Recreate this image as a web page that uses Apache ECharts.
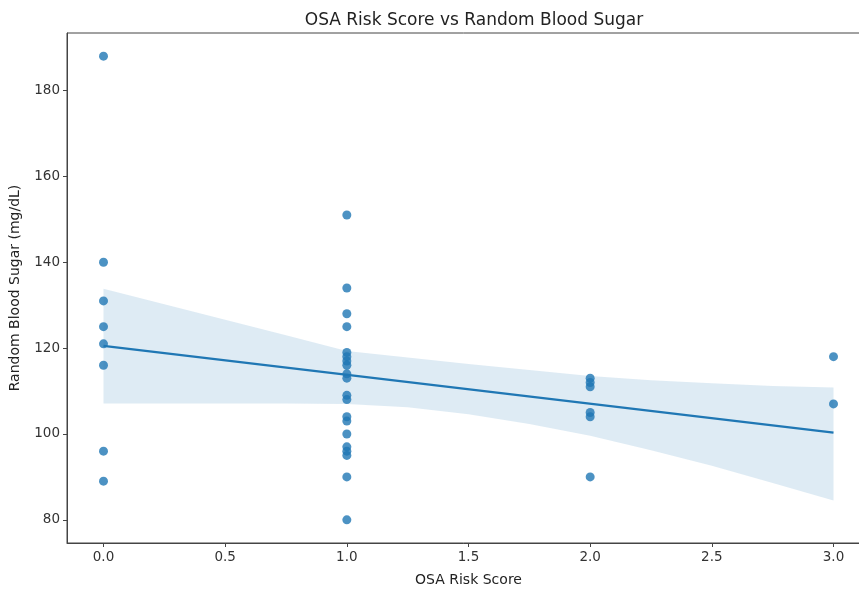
<!DOCTYPE html>
<html>
<head>
<meta charset="utf-8">
<script src="https://cdn.jsdelivr.net/npm/echarts@6/dist/echarts.min.js"></script>
<style>html,body{margin:0;padding:0;background:#fff}#c{width:859px;height:592px}</style>
</head>
<body>
<div id="c"></div>
<script>
// Scatter data (OSA Risk Score, Random Blood Sugar)
const score0 = [188, 140, 131, 125, 121, 116, 96, 89];
const score1 = [151, 134, 128, 125, 119, 118, 117, 116, 114, 113, 109, 108, 104, 103, 100, 97, 96, 95, 90, 80];
const score2 = [113, 112, 111, 105, 104, 90];
const score3 = [118, 107];
// Regression line
const fitX = [0, 3];
const fitY = [120.5, 100.3];
// Confidence band
const bandX = [0, 0.25, 0.5, 0.75, 1.0, 1.25, 1.5, 1.75, 2.0, 2.25, 2.5, 2.75, 3.0];
const bandUpper = [133.8, 130.2, 126.6, 123.0, 119.3, 117.8, 116.3, 114.9, 113.5, 112.5, 111.8, 111.2, 110.8];
const bandLower = [107.1, 107.1, 107.1, 107.1, 107.0, 106.2, 104.6, 102.3, 99.6, 96.2, 92.6, 88.6, 84.5];
// Tick labels
const xTicks = [0, 0.5, 1.0, 1.5, 2.0, 2.5, 3.0];
const yTicks = [80, 100, 120, 140, 160, 180];

const points = [];
[[0, score0], [1, score1], [2, score2], [3, score3]].forEach(([x, arr]) => arr.forEach(v => points.push([x, v])));

const font = 'DejaVu Sans';
const chart = echarts.init(document.getElementById('c'), null, {renderer: 'canvas'});
chart.setOption({
  animation: false,
  backgroundColor: '#fff',
  title: {
    text: 'OSA Risk Score vs Random Blood Sugar',
    left: 469, top: 7, textAlign: 'center',
    textStyle: {fontFamily: font, fontSize: 17, fontWeight: 'normal', color: '#222'}
  },
  grid: {left: 67, top: 33, width: 803, bottom: 49, outerBoundsMode: 'none', containLabel: false,
    show: true, borderColor: '#444', borderWidth: 1, backgroundColor: 'transparent'},
  xAxis: {
    type: 'value', min: -0.15, max: 3.15,
    name: 'OSA Risk Score', nameLocation: 'middle', nameGap: 30,
    nameTextStyle: {fontFamily: font, fontSize: 14, color: '#222'},
    axisLine: {show: true, onZero: false, lineStyle: {color: '#444', width: 1}},
    axisTick: {show: true, customValues: xTicks, length: 4, lineStyle: {color: '#444'}},
    axisLabel: {customValues: xTicks, formatter: v => v.toFixed(1), fontFamily: font, fontSize: 13.5, color: '#333', margin: 7},
    splitLine: {show: false}
  },
  yAxis: {
    type: 'value', min: 74.6, max: 193.4,
    name: 'Random Blood Sugar (mg/dL)', nameLocation: 'middle', nameGap: 45, nameRotate: 90,
    nameTextStyle: {fontFamily: font, fontSize: 14, color: '#222'},
    axisLine: {show: true, onZero: false, lineStyle: {color: '#444', width: 1}},
    axisTick: {show: true, customValues: yTicks, length: 4, lineStyle: {color: '#444'}},
    axisLabel: {customValues: yTicks, fontFamily: font, fontSize: 13.5, color: '#333', margin: 7},
    splitLine: {show: false}
  },
  series: [
    {
      type: 'custom', silent: true, z: 1,
      data: [[bandX[0], bandLower[0]]],
      renderItem: function (params, api) {
        const pts = [];
        for (let i = 0; i < bandX.length; i++) pts.push(api.coord([bandX[i], bandUpper[i]]));
        for (let i = bandX.length - 1; i >= 0; i--) pts.push(api.coord([bandX[i], bandLower[i]]));
        return {type: 'polygon', shape: {points: pts}, style: {fill: 'rgba(31,119,180,0.15)', stroke: null}};
      }
    },
    {
      type: 'scatter', data: points, symbolSize: 9,
      itemStyle: {color: '#1f77b4', opacity: 0.8}, z: 3
    },
    {
      type: 'line', symbol: 'none', data: fitX.map((x, i) => [x, fitY[i]]),
      lineStyle: {color: '#1f77b4', width: 2.2}, z: 4
    }
  ]
});
</script>
</body>
</html>
